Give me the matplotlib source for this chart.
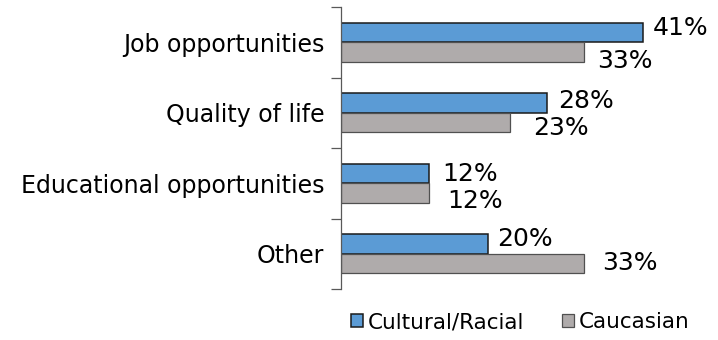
import matplotlib
matplotlib.use("Agg")
import matplotlib.pyplot as plt
import numpy as np

# Chart data
categories = ["Job opportunities", "Quality of life", "Educational opportunities", "Other"]
cultural = [41, 28, 12, 20]
caucasian = [33, 23, 12, 33]
series_names = ["Cultural/Racial", "Caucasian"]

# Hand-placed data label offsets in pixels (right, up), as in the source chart
cultural_offsets = [(10, 4), (11, 2), (13, -1), (9, 5)]
caucasian_offsets = [(13, -9), (23, -5), (18, -8), (18, 1)]

blue = "#5B9BD5"
gray = "#AFABAB"

plt.rcParams["font.family"] = ["DejaVu Sans"]

fig = plt.figure(figsize=(7.18, 3.40), dpi=100)
ax = fig.add_axes([341 / 718, 51 / 340, 377 / 718, 282 / 340])

y = np.arange(len(categories))
bar_h = 0.277
b1 = ax.barh(y - bar_h / 2, cultural, height=bar_h, color=blue,
             edgecolor="#1a1a1a", linewidth=1.1, label=series_names[0])
b2 = ax.barh(y + bar_h / 2, caucasian, height=bar_h, color=gray,
             edgecolor="#505050", linewidth=0.9, label=series_names[1])

for yy, v, off in zip(y - bar_h / 2, cultural, cultural_offsets):
    ax.annotate(f"{v}%", (v, yy), xytext=off, textcoords="offset pixels",
                ha="left", va="center", fontsize=18)
for yy, v, off in zip(y + bar_h / 2, caucasian, caucasian_offsets):
    ax.annotate(f"{v}%", (v, yy), xytext=off, textcoords="offset pixels",
                ha="left", va="center", fontsize=18)

ax.set_xlim(0, 377 / 7.365)
ax.set_ylim(len(categories) - 0.5, -0.5)
ax.set_yticks(y)
ax.set_yticklabels(categories, fontsize=17)
ax.set_yticks(np.arange(-0.5, len(categories)), minor=True)
ax.tick_params(axis="y", which="major", length=0, pad=12)
ax.tick_params(axis="y", which="minor", length=7.2, width=0.9, color="#595959")
ax.set_xticks([])
for side in ["top", "right", "bottom"]:
    ax.spines[side].set_visible(False)
ax.spines["left"].set_color("#595959")
ax.spines["left"].set_linewidth(0.9)

fig.legend(handles=[b1, b2], loc="center left", bbox_to_anchor=(351 / 718, 18 / 340),
           bbox_transform=fig.transFigure, ncol=2, frameon=False, fontsize=15.5,
           handlelength=0.58, handleheight=0.58, handletextpad=0.2,
           columnspacing=1.75, borderpad=0, borderaxespad=0)

fig.savefig("out.png", dpi=100)
